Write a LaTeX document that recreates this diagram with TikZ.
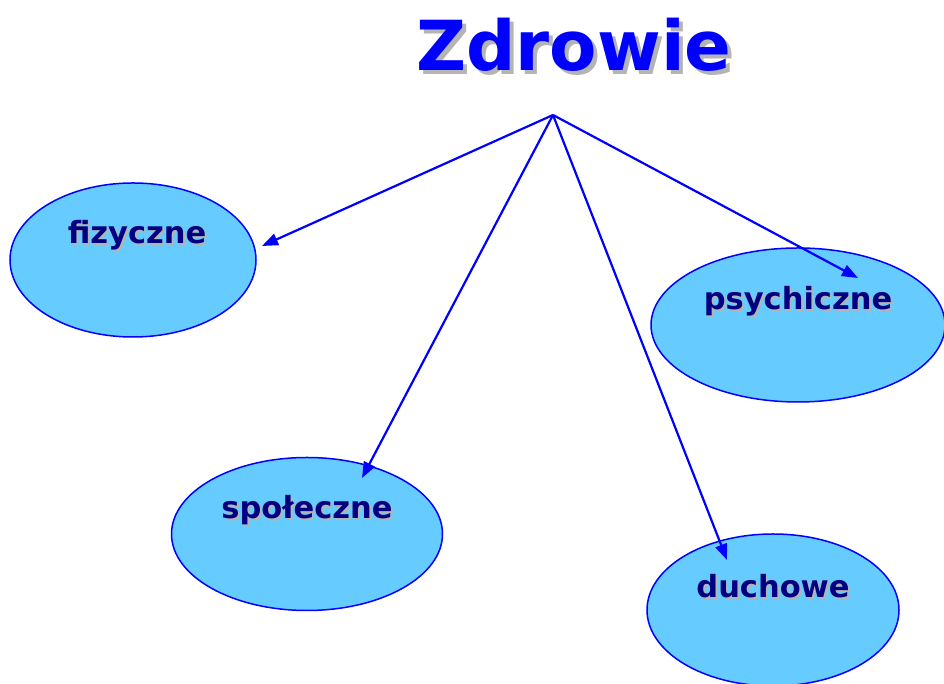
\documentclass[tikz,border=0pt]{standalone}
\usepackage{fontspec}
\setmainfont{DejaVu Sans}
\usetikzlibrary{shapes.geometric,arrows.meta}
\definecolor{zblue}{HTML}{0000FF}
\definecolor{zfill}{HTML}{66CCFF}
\definecolor{znavy}{HTML}{000080}
\definecolor{zshadow}{HTML}{B4B4B4}
\newcommand{\shadowtext}[2]{\makebox[0pt][l]{\hspace{#1}\raisebox{-#1}{\textcolor{zshadow}{#2}}}#2}

\begin{document}
\begin{tikzpicture}[x=1pt,y=1pt,
	areanode/.style={ellipse, draw=zblue, fill=zfill, line width=1.5pt, inner sep=0pt},
	areatext/.style={font=\fontsize{30.5}{36}\selectfont\bfseries, text=znavy},
	titletext/.style={font=\fontsize{69}{76}\selectfont\bfseries, text=zblue},
	link/.style={-{Triangle[length=16pt,width=12pt]}, draw=zblue, line width=2.2pt},
	]
	\useasboundingbox (0,0) rectangle (944,684);
	%Nodes
	\node[titletext](title) at (574,637) {\shadowtext{4pt}{Zdrowie}};
	\coordinate (top) at (553,569);
	\node[areanode, minimum width=246pt, minimum height=154pt,
		label={[areatext,yshift=24pt,xshift=4pt]center:\shadowtext{2pt}{fizyczne}}](fiz) at (133,424) {};
	\node[areanode, minimum width=294pt, minimum height=154pt,
		label={[areatext,yshift=23pt]center:\shadowtext{2pt}{psychiczne}}](psy) at (798,359) {};
	\node[areanode, minimum width=271pt, minimum height=153pt,
		label={[areatext,yshift=23pt]center:\shadowtext{2pt}{społeczne}}](spo) at (307,150) {};
	\node[areanode, minimum width=252pt, minimum height=152pt,
		label={[areatext,yshift=23pt]center:\shadowtext{2pt}{duchowe}}](duc) at (773,74) {};
	
	%Lines
	\draw[link] (top) -- ([shift={(129pt,14pt)}]fiz.center);
	\draw[link] (top) -- ([shift={(60pt,47pt)}]psy.center);
	\draw[link] (top) -- ([shift={(55pt,56pt)}]spo.center);
	\draw[link] (top) -- ([shift={(-46pt,50pt)}]duc.center);
\end{tikzpicture}
\end{document}
